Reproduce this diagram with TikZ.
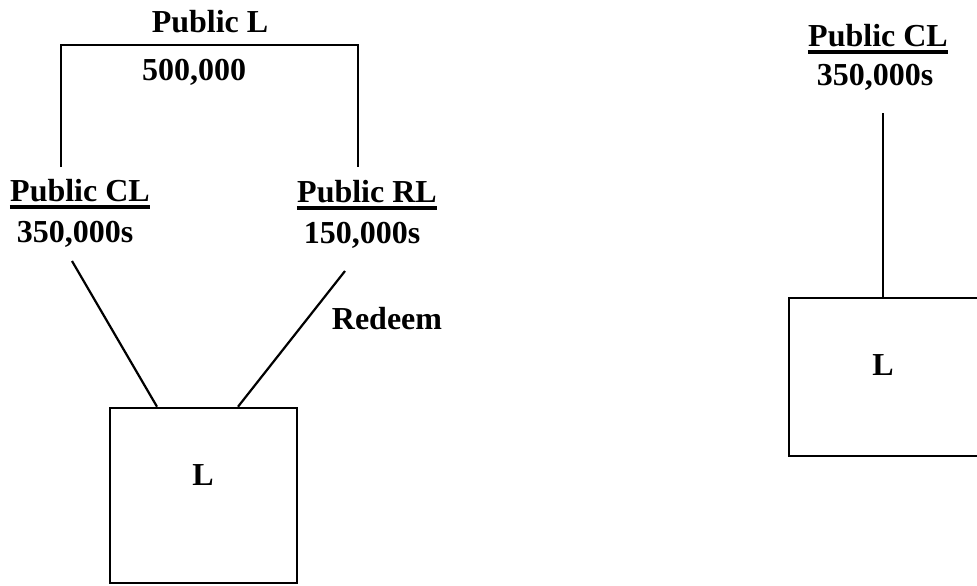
\documentclass[tikz,border=0pt]{standalone}
\usepackage{fontspec}
\setmainfont{Liberation Serif}
\begin{document}
\begin{tikzpicture}[x=0.5pt,y=-0.5pt,
  lbl/.style={inner sep=0pt,anchor=base,font=\fontsize{16}{19}\selectfont\bfseries},
  ul/.style={line width=1.7pt},
  conn/.style={line width=1.1pt},
  boxnode/.style={draw,line width=1.3pt,rectangle,inner sep=0pt}]
\useasboundingbox (0,0) rectangle (977,585);

% left structure
\node[lbl] (pl) at (210,32) {Public L};
\node[lbl] (amt) at (194,80) {500,000};
\node[lbl] (cl) at (80,201) {Public CL};
\node[lbl] (clamt) at (75,242) {350,000s};
\node[lbl] (rl) at (367,202) {Public RL};
\node[lbl] (rlamt) at (362,243) {150,000s};
\node[lbl] (redeem) at (387,329) {Redeem};
\node[boxnode,minimum width=93.5pt,minimum height=87.5pt] (lbox) at (203.5,495.5) {};
\node[lbl] (lboxlbl) at (203,485) {L};

\draw[ul] ([yshift=-3pt]cl.base west) -- ([yshift=-3pt]cl.base east);
\draw[ul] ([yshift=-3pt]rl.base west) -- ([yshift=-3pt]rl.base east);

% bracket joining the two classes
\coordinate (bl) at (61,167);
\coordinate (br) at (358,167);
\draw[conn] (bl) -- (61,45) -- (358,45) -- (br);

% legs down to the box
\coordinate (cllow) at (72,261);
\coordinate (rllow) at (345,271);
\draw[conn] (cllow) -- (lbox.north -| 157,0);
\draw[conn] (rllow) -- (lbox.north -| 238,0);

% right structure
\node[lbl] (cl2) at (878,46) {Public CL};
\node[lbl] (cl2amt) at (875,85) {350,000s};
\node[boxnode,minimum width=95.5pt,minimum height=79pt] (rbox) at (884.5,377) {};
\node[lbl] (rboxlbl) at (883,375) {L};
\draw[ul] ([yshift=-3pt]cl2.base west) -- ([yshift=-3pt]cl2.base east);
\coordinate (cl2low) at (883,113);
\draw[conn] (cl2low) -- (rbox.north -| 883,0);
\end{tikzpicture}
\end{document}
